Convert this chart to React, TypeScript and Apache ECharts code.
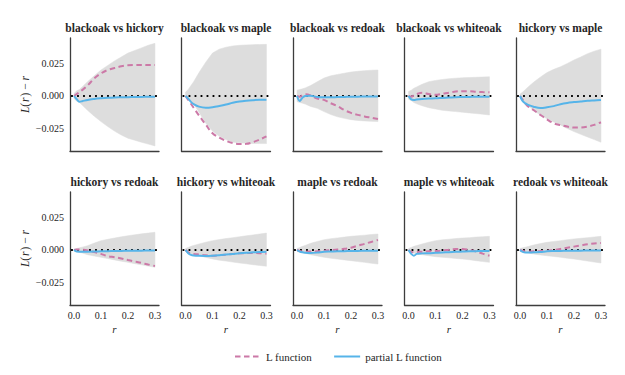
import React, { useEffect, useRef } from "react";
import * as echarts from "echarts";

const R = [0, 0.01, 0.02, 0.03, 0.05, 0.075, 0.1, 0.125, 0.15, 0.175, 0.2, 0.225, 0.25, 0.275, 0.3];

const PANEL_TITLES = [
  "blackoak vs hickory",
  "blackoak vs maple",
  "blackoak vs redoak",
  "blackoak vs whiteoak",
  "hickory vs maple",
  "hickory vs redoak",
  "hickory vs whiteoak",
  "maple vs redoak",
  "maple vs whiteoak",
  "redoak vs whiteoak",
];

const ENV_UPPER = [
  [0.002, 0.004, 0.005, 0.007, 0.011, 0.0155, 0.02, 0.0235, 0.027, 0.03, 0.033, 0.035, 0.037, 0.039, 0.0405],
  [0.003, 0.005, 0.008, 0.011, 0.018, 0.026, 0.033, 0.036, 0.0375, 0.0385, 0.039, 0.0393, 0.0395, 0.0396, 0.0397],
  [0.0045, 0.005, 0.0055, 0.0062, 0.008, 0.011, 0.0138, 0.0155, 0.0166, 0.0175, 0.0184, 0.019, 0.0195, 0.0198, 0.02],
  [0.0035, 0.0045, 0.006, 0.007, 0.009, 0.011, 0.012, 0.0127, 0.0133, 0.0137, 0.014, 0.0142, 0.0144, 0.0146, 0.0148],
  [0.0015, 0.003, 0.005, 0.007, 0.0105, 0.0145, 0.018, 0.0205, 0.0225, 0.025, 0.0277, 0.03, 0.0325, 0.0345, 0.036],
  [0.0008, 0.0012, 0.0017, 0.0022, 0.0033, 0.0053, 0.0072, 0.0082, 0.0092, 0.0101, 0.011, 0.0117, 0.0124, 0.013, 0.0136],
  [0.0012, 0.002, 0.0028, 0.0035, 0.0046, 0.006, 0.0072, 0.008, 0.0088, 0.0095, 0.0102, 0.0109, 0.0116, 0.0123, 0.013],
  [0.0012, 0.002, 0.0028, 0.0035, 0.0051, 0.0066, 0.0079, 0.0087, 0.0093, 0.0099, 0.0105, 0.011, 0.0114, 0.0119, 0.0123],
  [0.0012, 0.002, 0.0028, 0.0034, 0.0046, 0.006, 0.0072, 0.0078, 0.0083, 0.0088, 0.0092, 0.0095, 0.0099, 0.0102, 0.0105],
  [0.0012, 0.0017, 0.0022, 0.0027, 0.0038, 0.0049, 0.0059, 0.0066, 0.0072, 0.0079, 0.0085, 0.009, 0.0095, 0.01, 0.0105],
];

const ENV_LOWER = [
  [-0.002, -0.004, -0.005, -0.007, -0.011, -0.0155, -0.0197, -0.0235, -0.027, -0.03, -0.0325, -0.034, -0.0356, -0.037, -0.0384],
  [-0.001, -0.002, -0.004, -0.006, -0.0125, -0.021, -0.027, -0.031, -0.0335, -0.0355, -0.036, -0.0363, -0.0365, -0.0366, -0.0366],
  [-0.0044, -0.005, -0.0055, -0.0062, -0.008, -0.0095, -0.012, -0.0143, -0.016, -0.0172, -0.0182, -0.0188, -0.0192, -0.0195, -0.0197],
  [-0.0025, -0.0035, -0.005, -0.006, -0.0075, -0.009, -0.01, -0.011, -0.0115, -0.012, -0.0125, -0.013, -0.0135, -0.014, -0.0146],
  [-0.0015, -0.003, -0.005, -0.0075, -0.011, -0.0146, -0.0175, -0.02, -0.0223, -0.025, -0.0274, -0.0295, -0.0315, -0.0335, -0.0356],
  [-0.0008, -0.0013, -0.0018, -0.0023, -0.0036, -0.0046, -0.0056, -0.0066, -0.0076, -0.0086, -0.0095, -0.0105, -0.0114, -0.0124, -0.0133],
  [-0.0012, -0.002, -0.0028, -0.0035, -0.0044, -0.0057, -0.0069, -0.0078, -0.0085, -0.0093, -0.01, -0.0106, -0.0113, -0.0119, -0.0125],
  [-0.0012, -0.0016, -0.002, -0.0025, -0.0036, -0.0046, -0.0056, -0.0063, -0.007, -0.0076, -0.0082, -0.0089, -0.0095, -0.0102, -0.0108],
  [-0.0012, -0.0018, -0.0024, -0.0029, -0.0036, -0.0044, -0.0051, -0.0056, -0.006, -0.0065, -0.0069, -0.0075, -0.0082, -0.0089, -0.0095],
  [-0.0012, -0.0015, -0.0019, -0.0023, -0.0031, -0.0038, -0.0044, -0.005, -0.0056, -0.0063, -0.0069, -0.0077, -0.0085, -0.0093, -0.01],
];

const L_FUNCTION = [
  [0, 0.0015, 0.003, 0.0045, 0.008, 0.0135, 0.0174, 0.02, 0.0215, 0.0228, 0.0236, 0.0238, 0.0239, 0.0238, 0.0238],
  [0, -0.003, -0.006, -0.009, -0.015, -0.022, -0.0287, -0.032, -0.0345, -0.0362, -0.0369, -0.0368, -0.0355, -0.0335, -0.031],
  [0, -0.0005, 0.0005, 0.0013, 0.0005, -0.002, -0.003, -0.0056, -0.0078, -0.0108, -0.013, -0.0145, -0.0157, -0.0167, -0.0177],
  [0, -0.0005, 0.0005, 0.0015, 0.0025, 0.0015, 0.0009, 0.0018, 0.0025, 0.0034, 0.0037, 0.0037, 0.0033, 0.003, 0.0028],
  [0, -0.003, -0.0058, -0.008, -0.0108, -0.0145, -0.018, -0.021, -0.0224, -0.0235, -0.0243, -0.0242, -0.0235, -0.0222, -0.0202],
  [0, 0.0003, 0.0003, 0.0002, -0.0003, -0.0016, -0.003, -0.0047, -0.0055, -0.0065, -0.0077, -0.0088, -0.0099, -0.0112, -0.0123],
  [0, -0.0018, -0.0026, -0.003, -0.0035, -0.0041, -0.0044, -0.004, -0.0036, -0.0031, -0.0026, -0.0024, -0.0023, -0.0025, -0.0028],
  [0, -0.0008, -0.0012, -0.0013, -0.0012, -0.001, -0.0005, -0.0001, 0.0003, 0.0009, 0.0018, 0.0033, 0.0047, 0.0062, 0.0077],
  [0, -0.0015, -0.0017, -0.0015, -0.0013, -0.001, -0.0008, -0.0004, 0.0002, 0.0007, 0.0008, 0, -0.0011, -0.0028, -0.0044],
  [0, -0.0008, -0.0012, -0.0012, -0.001, -0.0008, -0.0006, 0, 0.0008, 0.0017, 0.0026, 0.0035, 0.0044, 0.005, 0.0054],
];

const PARTIAL_L = [
  [0, -0.0025, -0.0044, -0.004, -0.003, -0.0023, -0.0018, -0.0014, -0.0011, -0.001, -0.0009, -0.0008, -0.0007, -0.0006, -0.0005],
  [0, -0.002, -0.0045, -0.0062, -0.0082, -0.009, -0.0086, -0.0077, -0.0066, -0.0052, -0.0042, -0.0036, -0.0032, -0.0029, -0.0028],
  [0, -0.0038, -0.0013, 0, 0.0002, -0.0008, -0.001, -0.001, -0.0008, -0.0007, -0.0006, -0.0005, -0.0004, -0.0003, -0.0003],
  [0, -0.0026, -0.003, -0.0027, -0.0023, -0.002, -0.0018, -0.0015, -0.0012, -0.0009, -0.0008, -0.0007, -0.0006, -0.0005, -0.0005],
  [0, -0.004, -0.0057, -0.0068, -0.0082, -0.0092, -0.0087, -0.0078, -0.0063, -0.0053, -0.0047, -0.0042, -0.0037, -0.0034, -0.0031],
  [0, -0.0012, -0.0013, -0.0013, -0.0013, -0.0012, -0.001, -0.0009, -0.0008, -0.0007, -0.0006, -0.0005, -0.0005, -0.0004, -0.0004],
  [0, -0.0025, -0.0037, -0.0042, -0.0045, -0.0046, -0.0044, -0.004, -0.0035, -0.003, -0.0025, -0.0021, -0.0018, -0.0015, -0.0013],
  [0, -0.0012, -0.0018, -0.0021, -0.0023, -0.002, -0.0014, -0.0012, -0.001, -0.0009, -0.0008, -0.0007, -0.0006, -0.0005, -0.0005],
  [0, -0.003, -0.0044, -0.003, -0.0026, -0.0025, -0.0022, -0.0019, -0.0017, -0.0014, -0.0012, -0.001, -0.0009, -0.0008, -0.0008],
  [0, -0.0015, -0.002, -0.002, -0.0018, -0.0016, -0.001, -0.0008, -0.0007, -0.0006, -0.0005, -0.0005, -0.0004, -0.0004, -0.0004],
];

const Y_TICKS = [-0.025, 0, 0.025];
const X_TICKS = [0, 0.1, 0.2, 0.3];
const X_MIN = -0.015;
const X_MAX = 0.315;
const Y_MIN = -0.0423;
const Y_MAX = 0.0446;

const PINK = "#cc79a7";
const BLUE = "#56b4e9";
const BAND = "#dddddd";
const SPINE = "#3d3d3d";
const TEXT = "#262626";
const FONT = "'Liberation Serif', 'DejaVu Serif', serif";

export default function App() {
  const ref = useRef<HTMLDivElement>(null);

  useEffect(() => {
    const chart = echarts.init(ref.current!, null, { renderer: "svg" });
    const grids: any[] = [];
    const xAxes: any[] = [];
    const yAxes: any[] = [];
    const series: any[] = [];
    const graphics: any[] = [];

    for (let k = 0; k < PANEL_TITLES.length; k++) {
      const row = Math.floor(k / 5);
      const col = k % 5;
      const left = 70 + col * 111.5;
      const top = row === 0 ? 38 : 192;
      const width = 89;
      const height = 113;
      grids.push({ left, top, width, height });

      graphics.push({
        type: "text",
        x: left + width / 2,
        y: top - 10,
        style: {
          text: PANEL_TITLES[k],
          font: `bold 11.5px ${FONT}`,
          fill: TEXT,
          textAlign: "center",
          textVerticalAlign: "middle",
        },
      });

      xAxes.push({
        type: "value",
        gridIndex: k,
        min: X_MIN,
        max: X_MAX,
        axisLine: { show: true, onZero: false, lineStyle: { color: SPINE, width: 1.3 } },
        axisTick: { show: false },
        splitLine: { show: false },
        axisLabel: {
          show: row === 1,
          customValues: X_TICKS,
          formatter: (v: number) => v.toFixed(1),
          fontFamily: FONT,
          fontSize: 10,
          color: TEXT,
          margin: 5,
        },
        name: row === 1 ? "r" : "",
        nameLocation: "middle",
        nameGap: 18,
        nameTextStyle: { fontFamily: FONT, fontStyle: "italic", fontSize: 11, color: TEXT },
      });

      yAxes.push({
        type: "value",
        gridIndex: k,
        min: Y_MIN,
        max: Y_MAX,
        axisLine: { show: true, onZero: false, lineStyle: { color: SPINE, width: 1.3 } },
        axisTick: { show: false },
        splitLine: { show: false },
        axisLabel: {
          show: col === 0,
          customValues: Y_TICKS,
          formatter: (v: number) =>
            v < 0 ? "\u2212" + Math.abs(v).toFixed(3) : v.toFixed(3),
          fontFamily: FONT,
          fontSize: 10,
          color: TEXT,
          margin: 6,
        },
        name: col === 0 ? "{i|L}(\u200a{i|r}\u200a) \u2212 {i|r}" : "",
        nameLocation: "middle",
        nameRotate: 90,
        nameGap: 39,
        nameTextStyle: {
          fontFamily: FONT,
          fontSize: 11.5,
          color: TEXT,
          rich: {
            i: { fontFamily: FONT, fontStyle: "italic", fontSize: 11.5, color: TEXT },
          },
        },
      });

      const lower = ENV_LOWER[k];
      const upper = ENV_UPPER[k];
      series.push({
        type: "custom",
        xAxisIndex: k,
        yAxisIndex: k,
        data: R.map((r, i) => [r, lower[i], upper[i]]),
        encode: { x: 0, y: [1, 2] },
        silent: true,
        z: 1,
        renderItem: (params: any, api: any) => {
          if (params.dataIndex !== 0) return null;
          const pts: number[][] = [];
          for (let i = 0; i < R.length; i++) pts.push(api.coord([R[i], upper[i]]));
          for (let i = R.length - 1; i >= 0; i--) pts.push(api.coord([R[i], lower[i]]));
          return {
            type: "polygon",
            shape: { points: pts },
            style: { fill: BAND, stroke: BAND, lineWidth: 0.5 },
          };
        },
      });
      series.push({
        type: "line",
        xAxisIndex: k,
        yAxisIndex: k,
        data: [
          [X_MIN + 0.004, 0],
          [X_MAX, 0],
        ],
        symbol: "none",
        silent: true,
        lineStyle: { color: "#000000", width: 2, type: [1.8, 4.2] },
        z: 2,
      });
      series.push({
        name: "L function",
        type: "line",
        xAxisIndex: k,
        yAxisIndex: k,
        data: R.map((r, i) => [r, L_FUNCTION[k][i]]),
        symbol: "none",
        smooth: 0.35,
        lineStyle: { color: PINK, width: 2, type: [5.5, 3.5] },
        itemStyle: { color: PINK },
        z: 3,
      });
      series.push({
        name: "partial L function",
        type: "line",
        xAxisIndex: k,
        yAxisIndex: k,
        data: R.map((r, i) => [r, PARTIAL_L[k][i]]),
        symbol: "none",
        smooth: 0.35,
        lineStyle: { color: BLUE, width: 2 },
        itemStyle: { color: BLUE },
        z: 4,
      });
    }

    chart.setOption({
      animation: false,
      backgroundColor: "#ffffff",
      grid: grids,
      xAxis: xAxes,
      yAxis: yAxes,
      series,
      graphic: graphics,
      legend: {
        data: ["L function", "partial L function"],
        left: 229,
        top: 346,
        itemWidth: 26,
        itemHeight: 10,
        itemGap: 21,
        itemStyle: { opacity: 0 },
        textStyle: { fontFamily: FONT, fontSize: 11, color: TEXT },
      },
    });

    return () => chart.dispose();
  }, []);

  return (
    <div
      ref={ref}
      style={{ position: "fixed", left: 0, top: 0, width: 625, height: 375 }}
    />
  );
}
